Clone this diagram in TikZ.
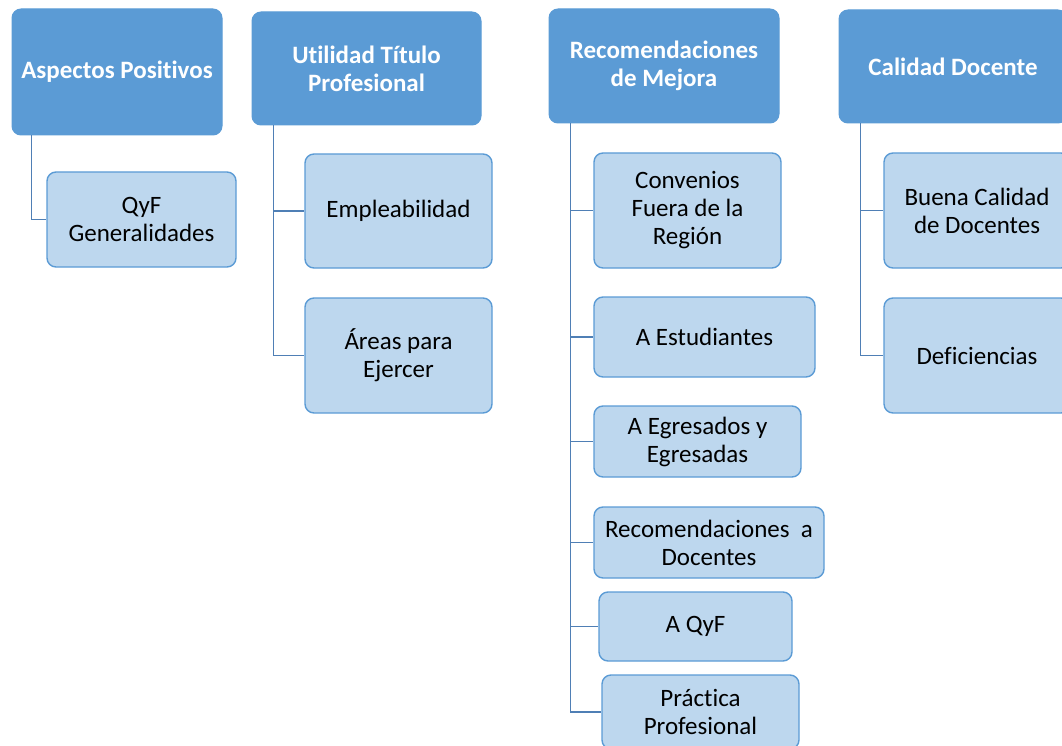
\documentclass[tikz,border=0pt]{standalone}
\usepackage{fontspec}
\setmainfont{Carlito}[Ligatures=NoCommon]
\definecolor{headblue}{HTML}{5B9BD5}
\definecolor{itemblue}{HTML}{BDD7EE}
\definecolor{linkblue}{HTML}{4F7FB5}
\begin{document}
\begin{tikzpicture}[x=1pt,y=-1pt,
    parentbox/.style={draw=headblue,fill=headblue,rounded corners=9pt,line width=1pt,
      text=white,font=\fontsize{25}{28}\selectfont\bfseries,align=center,inner sep=0pt},
    childbox/.style={draw=headblue,fill=itemblue,rounded corners=9pt,line width=1.4pt,
      text=black,font=\fontsize{25}{28}\selectfont,align=center,inner sep=0pt},
    branch/.style={draw=linkblue,line width=1.6pt}]
      \useasboundingbox (0,0) rectangle (1062,746);
      \clip (0,0) rectangle (1062,746);
      \path
        (117,72) node[parentbox,minimum width=210pt,minimum height=126pt] (asp){Aspectos Positivos}
        (141.5,219.5) node[childbox,minimum width=189pt,minimum height=95pt] (qyfgen){QyF\\Generalidades}
        (366.5,68.5) node[parentbox,minimum width=229pt,minimum height=113pt] (util){Utilidad Título\\Profesional}
        (398.5,211) node[childbox,minimum width=187pt,minimum height=114pt] (empl){Empleabilidad}
        (398.5,355.5) node[childbox,minimum width=187pt,minimum height=115pt] (areas){Áreas para\\Ejercer}
        (664,66) node[parentbox,minimum width=230pt,minimum height=114pt] (recom){Recomendaciones\\de Mejora}
        (687.5,210.5) node[childbox,minimum width=187pt,minimum height=115pt] (conv){Convenios\\Fuera de la\\Región}
        (704.5,337) node[childbox,minimum width=221pt,minimum height=80pt] (estud){A Estudiantes}
        (697.5,441.5) node[childbox,minimum width=207pt,minimum height=71pt] (egres){A Egresados y\\Egresadas}
        (709,542.5) node[childbox,minimum width=230pt,minimum height=71pt] (recdoc){Recomendaciones~~a\\Docentes}
        (695.5,626.5) node[childbox,minimum width=193pt,minimum height=69pt] (aqyf){A QyF}
        (700.5,712) node[childbox,minimum width=197pt,minimum height=74pt] (pract){Práctica\\Profesional}
        (953,66.5) node[parentbox,minimum width=228pt,minimum height=113pt] (calid){Calidad Docente}
        (977,210.5) node[childbox,minimum width=186pt,minimum height=115pt] (buena){Buena Calidad\\de Docentes}
        (977,355.5) node[childbox,minimum width=186pt,minimum height=115pt] (defic){Deficiencias};
      \begin{scope}[branch]
        \draw ([xshift=20pt]asp.south west) |- (qyfgen.west);
        \draw ([xshift=22pt]util.south west) |- (empl.west);
        \draw ([xshift=22pt]util.south west) |- (areas.west);
        \draw ([xshift=22pt]recom.south west) |- (conv.west);
        \draw ([xshift=22pt]recom.south west) |- (estud.west);
        \draw ([xshift=22pt]recom.south west) |- (egres.west);
        \draw ([xshift=22pt]recom.south west) |- (recdoc.west);
        \draw ([xshift=22pt]recom.south west) |- (aqyf.west);
        \draw ([xshift=22pt]recom.south west) |- (pract.west);
        \draw ([xshift=22pt]calid.south west) |- (buena.west);
        \draw ([xshift=22pt]calid.south west) |- (defic.west);
      \end{scope}
    \end{tikzpicture}
\end{document}
